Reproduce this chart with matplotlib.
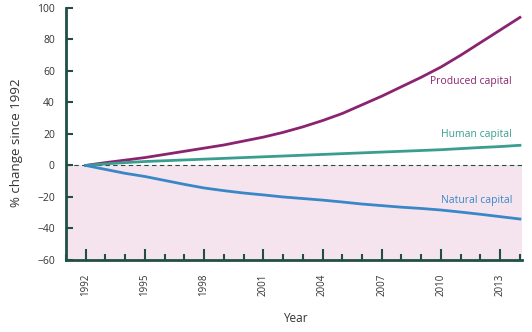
import numpy as np
import matplotlib.pyplot as plt
from matplotlib.ticker import MultipleLocator

plt.rcParams["font.family"] = ["Open Sans", "DejaVu Sans"]

years = list(range(1992, 2015))
produced = [0, 1.8, 3.4, 5, 7, 9, 11, 13, 15.5, 18, 21, 24.5, 28.5, 33, 38.5,
            44, 50, 56, 62.5, 70, 78, 86, 94]
human = [0, 1, 1.8, 2.5, 3, 3.5, 4, 4.5, 5, 5.5, 6, 6.5, 7, 7.5, 8, 8.5,
         9, 9.5, 10, 10.7, 11.4, 12, 12.8]
natural = [0, -2.5, -5, -7, -9.5, -12, -14.3, -16, -17.5, -18.7, -20, -21,
           -22, -23.2, -24.5, -25.5, -26.5, -27.3, -28.3, -29.6, -31, -32.5, -34]

axis_col = "#1f4f45"
text_col = "#333333"

fig = plt.figure(figsize=(5.32, 3.32), dpi=100)
ax = fig.add_axes([0.124, 0.217, 0.857, 0.759])

ax.axhspan(-60, 0, color="#f5e4ee", lw=0, zorder=0)
ax.axhline(0, color=axis_col, lw=0.8, ls=(0, (4, 3)), zorder=1)

ax.plot(years, produced, color="#8b2470", lw=2, zorder=3)
ax.plot(years, human, color="#3a9e8f", lw=2, zorder=3)
ax.plot(years, natural, color="#3a87c8", lw=2, zorder=3)

ax.text(2013.6, 53, "Produced capital", color="#8b2470", fontsize=7.5,
        ha="right", va="center")
ax.text(2013.6, 19.5, "Human capital", color="#3a9e8f", fontsize=7.5,
        ha="right", va="center")
ax.text(2013.6, -22, "Natural capital", color="#3a87c8", fontsize=7.5,
        ha="right", va="center")

ax.set_xlim(1991, 2014.1)
ax.set_ylim(-60, 100)
ax.set_xticks(range(1992, 2015, 3))
ax.xaxis.set_minor_locator(MultipleLocator(1))
ax.set_yticks(range(-60, 101, 20))

for s in ["top", "right"]:
    ax.spines[s].set_visible(False)
for s in ["left", "bottom"]:
    ax.spines[s].set_color(axis_col)
    ax.spines[s].set_linewidth(2)

ax.tick_params(axis="x", which="major", direction="in", length=8, width=1.5,
               color=axis_col, labelrotation=90, labelsize=7, labelcolor=text_col,
               pad=10)
ax.tick_params(axis="x", which="minor", direction="in", length=4, width=1.5,
               color=axis_col)
ax.tick_params(axis="y", direction="in", length=5, width=1.5, color=axis_col,
               labelsize=7.5, labelcolor=text_col, pad=8)

ax.set_xlabel("Year", fontsize=8.5, color=text_col)
ax.xaxis.set_label_coords(0.504, -0.206)
ax.set_ylabel("% change since 1992", fontsize=9.5, color=text_col)
ax.yaxis.set_label_coords(-0.095, 0.466)

fig.savefig("out.png", dpi=100)
